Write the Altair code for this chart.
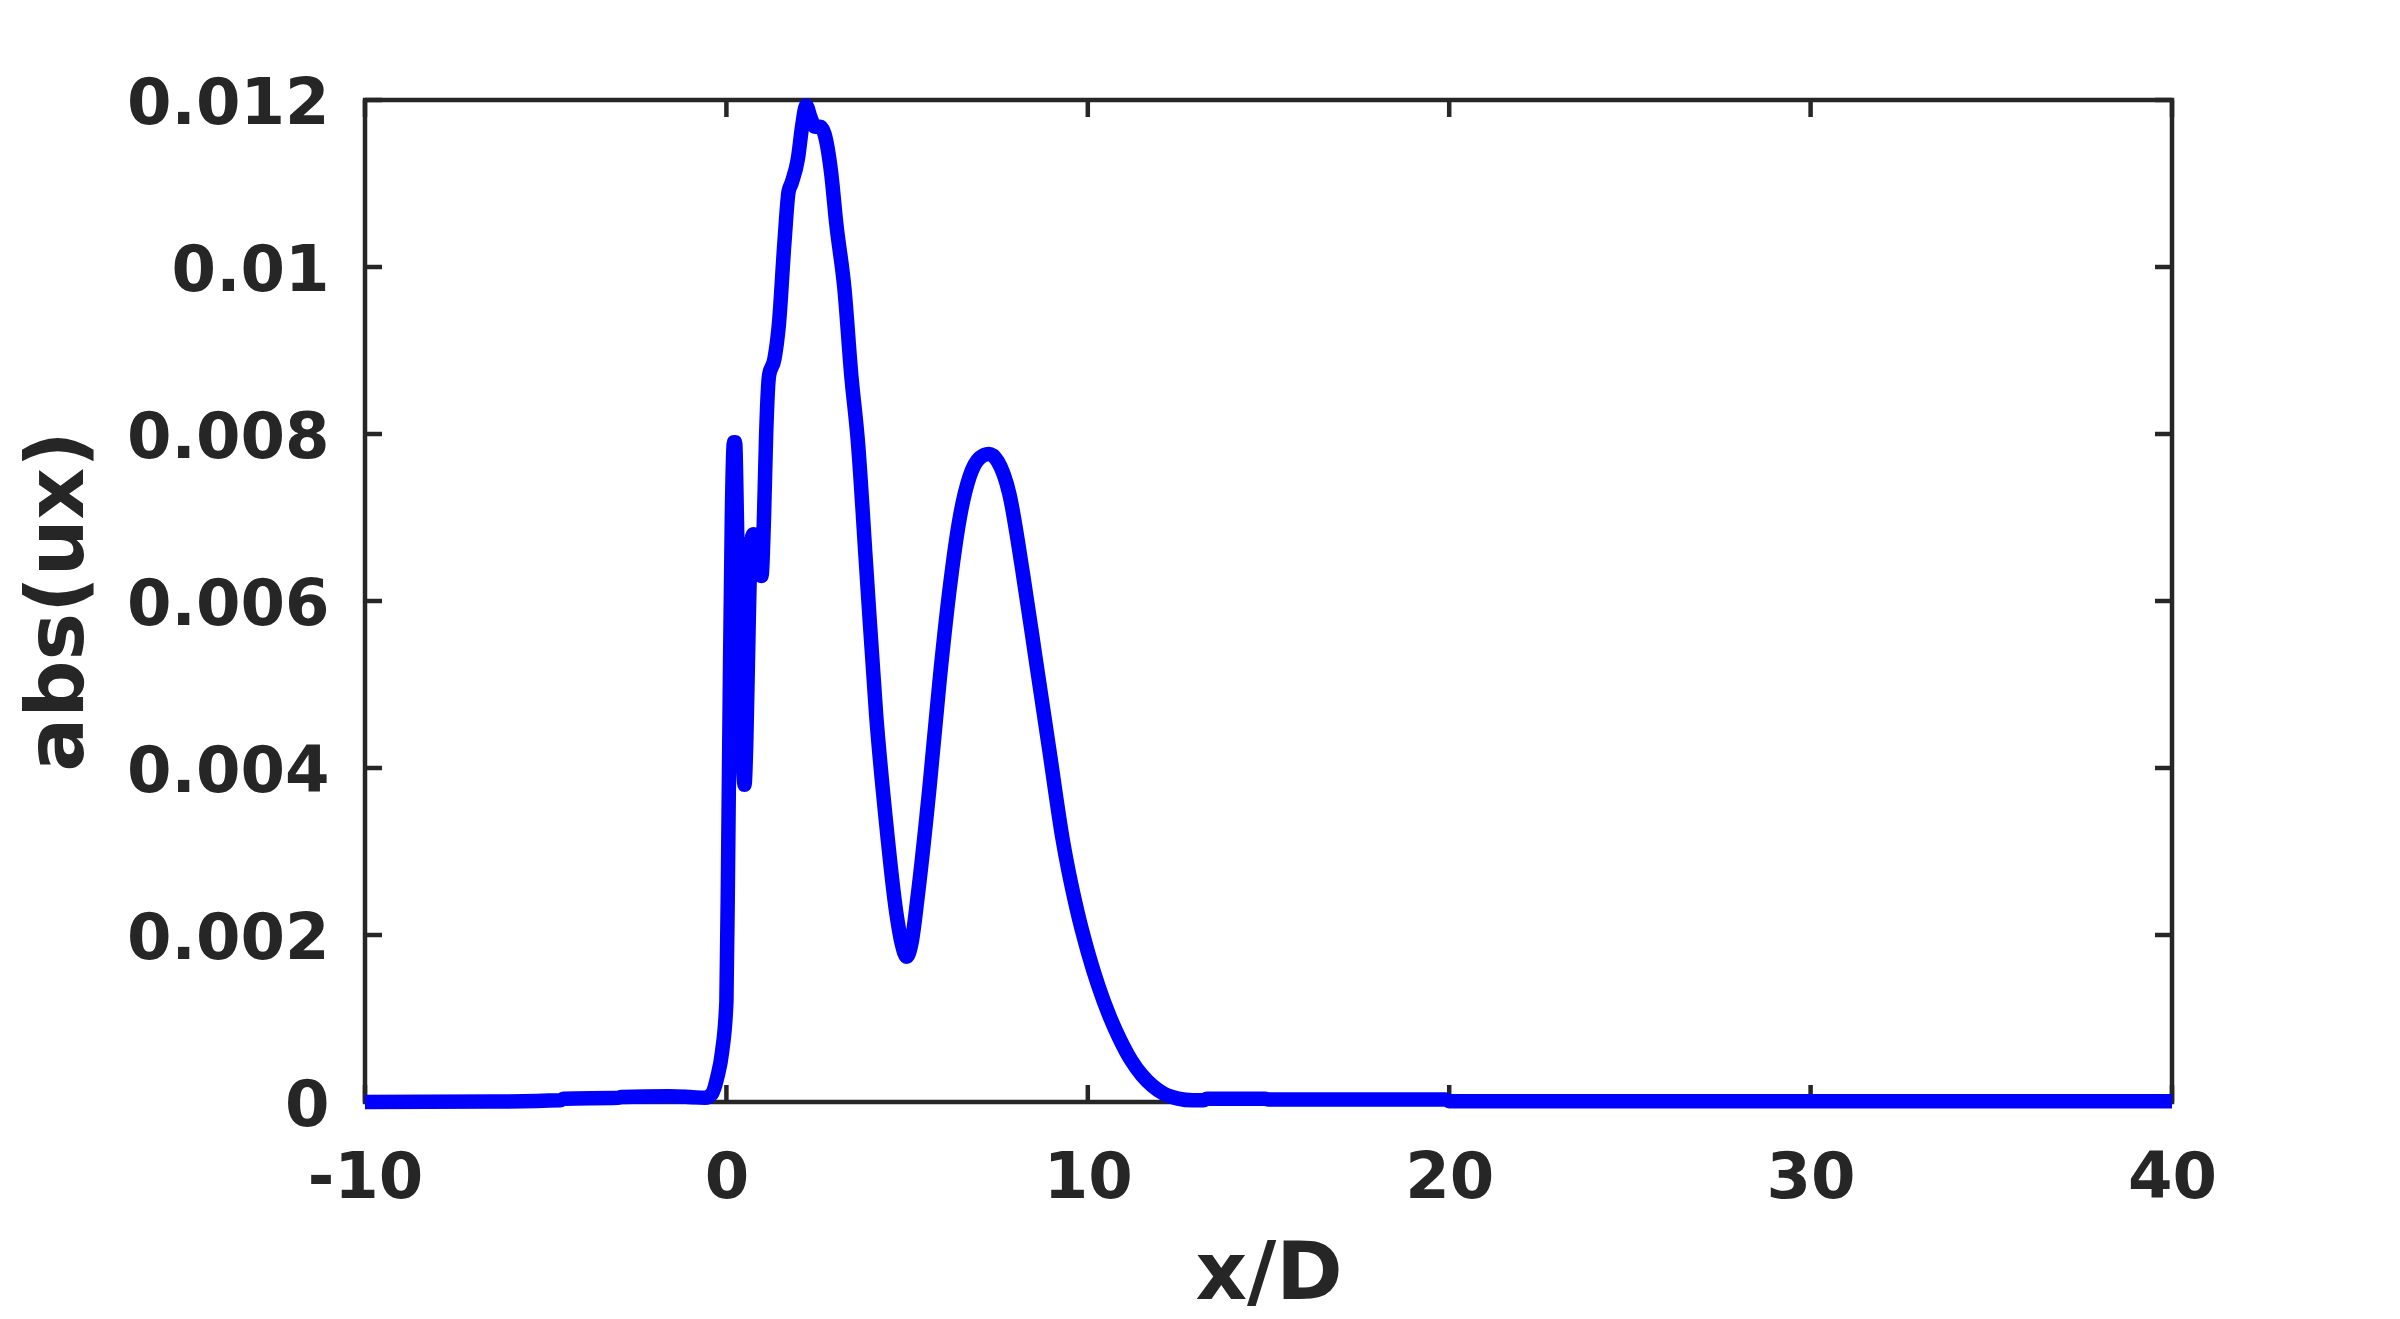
import altair as alt
import pandas as pd

# x/D positions and abs(ux) values
x_vals = [-10, -6.5, -4.6, -4.5, -3.0, -2.9, -1.6, -1.0, -0.6, -0.4, -0.25, -0.12,
          0.0, 0.05, 0.10, 0.15, 0.21, 0.24, 0.30, 0.38, 0.45, 0.50, 0.55, 0.62,
          0.68, 0.75, 0.85, 0.97, 1.04, 1.10, 1.18, 1.33, 1.45, 1.61, 1.72, 1.80,
          1.98, 2.10, 2.21, 2.32, 2.45, 2.60, 2.71, 2.90, 3.04, 3.27, 3.45, 3.64,
          3.87, 4.145, 4.42, 4.70, 4.85, 4.99, 5.12, 5.30, 5.62, 5.90, 6.17, 6.45,
          6.73, 7.00, 7.26, 7.51, 7.83, 8.20, 8.57, 8.94, 9.31, 9.70, 10.0, 10.3,
          10.6, 10.9, 11.2, 11.5, 11.8, 12.1, 12.5, 12.9, 13.2, 13.3, 14.9, 15.0,
          19.9, 20.0, 40]
y_vals = [0.0, 0.000005, 0.00002, 0.00004, 0.00005, 0.00006, 0.00007, 0.00006, 0.00005,
          0.0001, 0.0003, 0.0006,
          0.0012, 0.0030, 0.0052, 0.0070, 0.0079, 0.0079, 0.0068, 0.0053, 0.0042, 0.0038,
          0.0043, 0.0058,
          0.0067, 0.0068, 0.0066, 0.0063, 0.0070, 0.0080, 0.0087, 0.0089, 0.0093, 0.01032,
          0.0109, 0.0110,
          0.0113, 0.0117, 0.01193, 0.0118, 0.01168, 0.01168, 0.01160, 0.01112, 0.01052,
          0.00972, 0.00873, 0.00790,
          0.00640, 0.00463, 0.00334, 0.00227, 0.00190, 0.00174, 0.00190, 0.00249, 0.00377,
          0.00505, 0.00612, 0.00698,
          0.00749, 0.00771, 0.00776, 0.00767, 0.00728, 0.00634, 0.00527, 0.00420, 0.00313,
          0.00230, 0.00180, 0.00138,
          0.00103, 0.00074, 0.00050, 0.00032, 0.00019, 0.00010, 0.00004, 0.00002, 0.00002,
          0.00004, 0.00004, 0.00003,
          0.00003, 0.00001, 0.00001]

x_ticks = [-10, 0, 10, 20, 30, 40]
y_ticks = [0, 0.002, 0.004, 0.006, 0.008, 0.01, 0.012]

W, H = 1807, 1002
TICK = 17
AX = "#262626"
FONT = "DejaVu Sans"

df = pd.DataFrame({"x": x_vals, "y": y_vals})
dfx = pd.DataFrame({"x": x_ticks})
dfy = pd.DataFrame({"y": y_ticks})

xs = alt.Scale(domain=[-10, 40], nice=False, zero=False)
ys = alt.Scale(domain=[0, 0.012], nice=False, zero=False)

x_axis = alt.Axis(
    values=x_ticks, title="x/D", grid=False, ticks=False, tickSize=0, domain=False,
    labelFont=FONT, labelFontWeight="bold", labelFontSize=64, labelColor=AX,
    labelBaseline="alphabetic", labelPadding=95, labelFlush=False, labelOverlap=False,
    labelLimit=0,
    labelExpr="datum.value < 0 ? '-' + abs(datum.value) : '' + datum.value",
    titleFont=FONT, titleFontWeight="bold", titleFontSize=80, titleColor=AX,
    titleBaseline="alphabetic", titleAlign="center", titleX=W / 2, titleY=196,
    titleLimit=0,
)
y_axis = alt.Axis(
    values=y_ticks, title="abs(ux)", grid=False, ticks=False, tickSize=0, domain=False,
    format="~g",
    labelFont=FONT, labelFontWeight="bold", labelFontSize=64, labelColor=AX,
    labelBaseline="middle", labelOffset=4, labelPadding=36, labelFlush=False,
    labelOverlap=False, labelLimit=0,
    titleFont=FONT, titleFontWeight="bold", titleFontSize=80, titleColor=AX,
    titleAngle=270, titleBaseline="middle", titleAlign="center",
    titleX=-307, titleY=H / 2, titleLimit=0,
)

X = alt.X("x:Q", scale=xs, axis=x_axis)
Y = alt.Y("y:Q", scale=ys, axis=y_axis)

line = alt.Chart(df).mark_line(
    color="#0000FF", strokeWidth=14.5, interpolate="monotone",
    strokeCap="butt", strokeJoin="round"
).encode(x=X, y=Y)

bt = alt.Chart(dfx).mark_rule(color=AX, strokeWidth=4.5).encode(
    x=X, y=alt.value(H), y2=alt.value(H - TICK))
tt = alt.Chart(dfx).mark_rule(color=AX, strokeWidth=4.5).encode(
    x=X, y=alt.value(0), y2=alt.value(TICK))
lt = alt.Chart(dfy).mark_rule(color=AX, strokeWidth=4.5).encode(
    y=Y, x=alt.value(0), x2=alt.value(TICK))
rt = alt.Chart(dfy).mark_rule(color=AX, strokeWidth=4.5).encode(
    y=Y, x=alt.value(W), x2=alt.value(W - TICK))

chart = alt.layer(bt, tt, lt, rt, line).properties(
    width=W, height=H,
    autosize=alt.AutoSizeParams(type="none"),
    padding={"left": 357, "top": 92, "right": 120, "bottom": 216},
    background="white",
).configure_view(stroke=AX, strokeWidth=4.5)

chart.save("out.html", embed_options={"renderer": "svg", "actions": False})
